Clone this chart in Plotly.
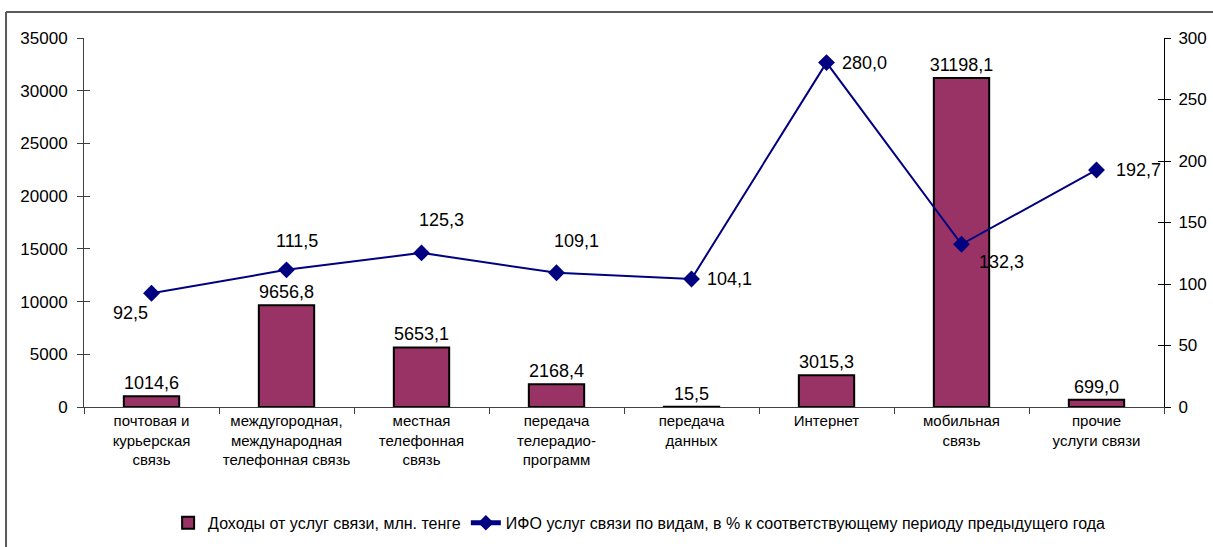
import plotly.graph_objects as go

categories = [
    "почтовая и<br>курьерская<br>связь",
    "междугородная,<br>международная<br>телефонная связь",
    "местная<br>телефонная<br>связь",
    "передача<br>телерадио-<br>программ",
    "передача<br>данных",
    "Интернет",
    "мобильная<br>связь",
    "прочие<br>услуги связи",
]
revenue = [1014.6, 9656.8, 5653.1, 2168.4, 15.5, 3015.3, 31198.1, 699.0]
index_pct = [92.5, 111.5, 125.3, 109.1, 104.1, 280.0, 132.3, 192.7]
left_ticks = [0, 5000, 10000, 15000, 20000, 25000, 30000, 35000]
right_ticks = [0, 50, 100, 150, 200, 250, 300]

name_bar = "Доходы от услуг связи, млн. тенге"
name_line = "ИФО услуг связи по видам, в % к соответствующему периоду предыдущего года"

# label offsets (px) for line labels, style only
lab_dx = [-21, 10, 20, 20, 38, 38, 40, 42]
lab_dy = [-20, 29, 33, 32, 0, 0, -18, 0]

def fmt(v):
    return f"{v:.1f}".replace(".", ",")

FONT = "Liberation Sans, Arial, sans-serif"

fig = go.Figure()
fig.add_trace(go.Bar(
    x=categories, y=revenue, name=name_bar,
    marker=dict(color="#993366", line=dict(color="#000000", width=2)),
    width=0.41,
    text=[fmt(v) for v in revenue], textposition="outside",
    textfont=dict(size=18, color="black", family=FONT),
    constraintext="none",
    cliponaxis=False, hoverinfo="skip",
))
fig.add_trace(go.Scatter(
    x=categories, y=index_pct, name=name_line, yaxis="y2",
    mode="lines+markers",
    line=dict(color="#000080", width=2),
    marker=dict(symbol="diamond", size=13, color="#000080"),
    cliponaxis=False, hoverinfo="skip",
))

for c, v, dx, dy in zip(categories, index_pct, lab_dx, lab_dy):
    fig.add_annotation(x=c, y=v, xref="x", yref="y2", text=fmt(v),
                       showarrow=False, xshift=dx, yshift=dy,
                       font=dict(size=18, color="black", family=FONT))

# outer frame
fig.add_shape(type="line", xref="paper", yref="paper",
              x0=-0.0722, x1=1.2, y0=1.0705, y1=1.0705,
              line=dict(color="#5a5a5a", width=2))
fig.add_shape(type="line", xref="paper", yref="paper",
              x0=-0.0722, x1=-0.0722, y0=1.0705, y1=-0.5,
              line=dict(color="#5a5a5a", width=2))

fig.update_layout(
    width=1213, height=547,
    margin=dict(l=84, r=49, t=38, b=140, autoexpand=False),
    paper_bgcolor="white", plot_bgcolor="white",
    font=dict(family=FONT, color="black"),
    bargap=0.59,
    xaxis=dict(
        type="category", showline=True, linecolor="#404040", linewidth=1,
        ticks="outside", ticklen=6, tickcolor="#404040", tickson="boundaries",
        tickfont=dict(size=15), tickangle=0, showgrid=False, zeroline=False,
        automargin=False,
    ),
    yaxis=dict(
        range=[0, 35000], tickvals=left_ticks,
        ticktext=[str(t) for t in left_ticks], showline=True,
        linecolor="#404040", linewidth=1, ticks="outside", ticklen=6,
        tickcolor="#404040", tickfont=dict(size=17), showgrid=False,
        zeroline=False, ticklabelstandoff=6, automargin=False,
    ),
    yaxis2=dict(
        range=[0, 300], tickvals=right_ticks,
        ticktext=[str(t) for t in right_ticks], overlaying="y", side="right",
        showline=True, linecolor="#000000", linewidth=1, ticks="outside",
        ticklen=6, tickcolor="#000000", tickfont=dict(size=17),
        showgrid=False, zeroline=False, ticklabelstandoff=4, automargin=False,
    ),
    yaxis3=dict(
        range=[0, 35000], tickvals=left_ticks, overlaying="y", side="left",
        anchor="x", showline=False, ticks="inside", ticklen=6,
        tickcolor="#404040", showticklabels=False, showgrid=False,
        zeroline=False, automargin=False,
    ),
    yaxis4=dict(
        range=[0, 300], tickvals=right_ticks, overlaying="y", side="right",
        anchor="x", showline=False, ticks="inside", ticklen=6,
        tickcolor="#000000", showticklabels=False, showgrid=False,
        zeroline=False, automargin=False,
    ),
    legend=dict(
        orientation="h", x=0.514, xanchor="center", y=-0.314, yanchor="middle",
        font=dict(size=16), itemsizing="constant", tracegroupgap=0,
        bgcolor="rgba(0,0,0,0)",
    ),
    showlegend=True,
)

# invisible traces to make overlay axes render
fig.add_trace(go.Scatter(x=[categories[0]], y=[0], yaxis="y3", mode="markers",
                         marker=dict(opacity=0), showlegend=False, hoverinfo="skip"))
fig.add_trace(go.Scatter(x=[categories[0]], y=[0], yaxis="y4", mode="markers",
                         marker=dict(opacity=0), showlegend=False, hoverinfo="skip"))

fig.write_html(
    "out.html",
    config={"displayModeBar": False},
    post_script="document.body.style.margin='0';document.body.style.overflow='hidden';",
)
